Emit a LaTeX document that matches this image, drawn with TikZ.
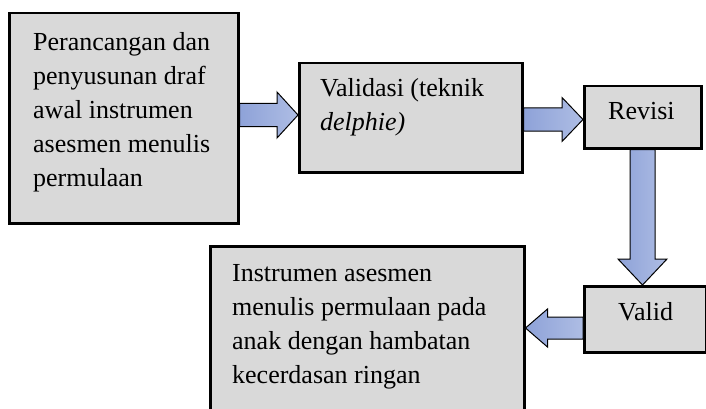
\documentclass[tikz,border=0pt]{standalone}
\usepackage{fontspec}
\setmainfont{Liberation Serif}
\usetikzlibrary{calc}
\definecolor{boxgray}{HTML}{D9D9D9}
\definecolor{arrowA}{HTML}{8EA2D8}
\definecolor{arrowB}{HTML}{AEBDE4}
\tikzset{
  stagebox/.style={draw=black, line width=2.5pt, fill=boxgray, rectangle,
    anchor=north west, inner sep=0pt},
  % base anchor of a multi-line label sits on its last line
  stagetext/.style={anchor=base west, inner sep=0pt, align=left,
    font=\fontsize{26}{34}\selectfont},
  blockarrow/.style={draw=black, line width=1pt, line join=miter,
    left color=arrowA, right color=arrowB}
}
\begin{document}
\begin{tikzpicture}[x=1pt,y=-1pt]
\useasboundingbox (0,0) rectangle (706,409);

% stage boxes
\node[stagebox, minimum width=229pt, minimum height=210pt] (b1) at (8,12) {};
\node[stagebox, minimum width=223pt, minimum height=109pt] (b2) at (298,62) {};
\node[stagebox, minimum width=117pt, minimum height=62pt] (b3) at (583,85) {};
\node[stagebox, minimum width=122pt, minimum height=66pt] (b4) at (583,285) {};
\node[stagebox, minimum width=314pt, minimum height=200pt] (b5) at (209,245) {};

% stage labels
\node[stagetext] (t1) at (33,186) {Perancangan dan\\penyusunan draf\\awal instrumen\\asesmen menulis\\permulaan};
\node[stagetext, font=\fontsize{26}{33}\selectfont] (t2) at (320,130) {Validasi (teknik\\\textit{delphie)}};
\node[stagetext] (t3) at (608,120) {Revisi};
\node[stagetext] (t4) at (618,320) {Valid};
\node[stagetext, font=\fontsize{26}{33.7}\selectfont] (t5) at (232,383) {Instrumen asesmen\\menulis permulaan pada\\anak dengan hambatan\\kecerdasan ringan};

% block arrows between the stages
\draw[blockarrow] let \p1=(b1.east), \p2=(b2.west) in
  (\x1,103.5) -- (\x2-21pt,103.5) -- (\x2-21pt,92) -- (\x2,115)
  -- (\x2-21pt,138) -- (\x2-21pt,126.5) -- (\x1,126.5) -- cycle;
\draw[blockarrow] let \p1=(b2.east), \p2=(b3.west) in
  (\x1,108) -- (\x2-21pt,108) -- (\x2-21pt,97.5) -- (\x2,119.5)
  -- (\x2-21pt,141.5) -- (\x2-21pt,131) -- (\x1,131) -- cycle;
\draw[blockarrow] let \p1=(b3.south), \p2=(b4.north) in
  (630,\y1) -- (655,\y1) -- (655,\y2+26pt) -- (667,\y2+26pt) -- (642.5,\y2)
  -- (618,\y2+26pt) -- (630,\y2+26pt) -- cycle;
\draw[blockarrow] let \p1=(b4.west), \p2=(b5.east) in
  (\x1,317) -- (\x2+22pt,317) -- (\x2+22pt,309) -- (\x2,328)
  -- (\x2+22pt,347) -- (\x2+22pt,339) -- (\x1,339) -- cycle;
\end{tikzpicture}
\end{document}
